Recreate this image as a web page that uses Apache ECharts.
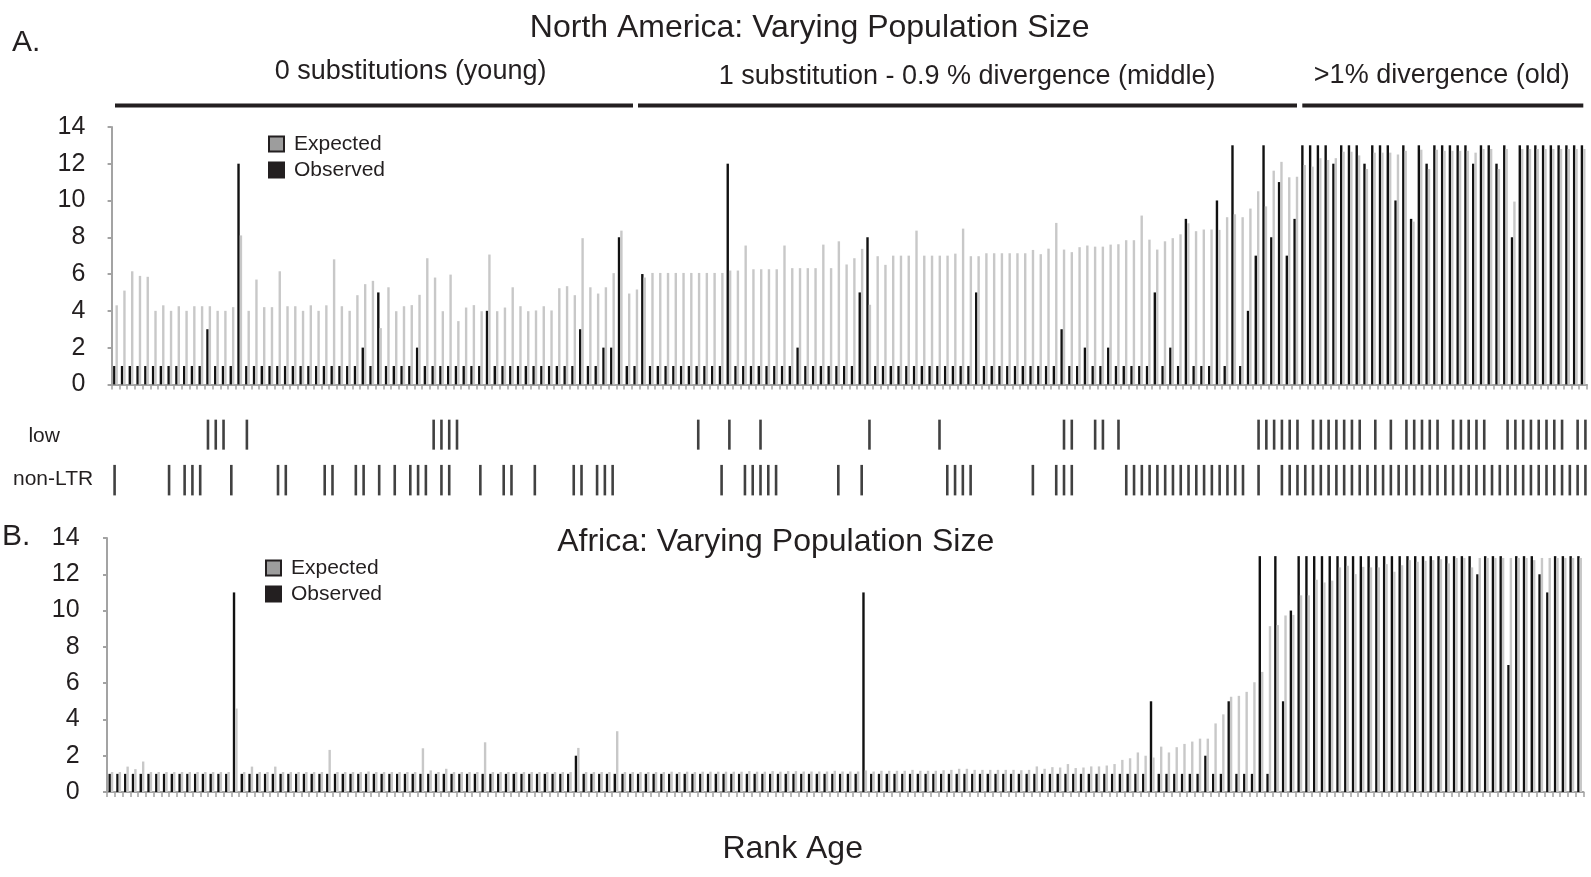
<!DOCTYPE html>
<html><head><meta charset="utf-8">
<script src="https://cdn.jsdelivr.net/npm/echarts@6/dist/echarts.min.js"></script>
<style>html,body{margin:0;padding:0;background:#fff}#c{width:1591px;height:877px}</style>
</head><body><div id="c"></div>
<script>
// Rank-age categories (190 elements)
const categories = Array.from({length: 190}, (_, i) => String(i + 1));
const yTicks = [0, 2, 4, 6, 8, 10, 12, 14];

// Panel A: North America
const naExpected = [
 4.3,5.1,6.15,5.9,5.85,4.0,4.3,4.0,4.25,4.0,
 4.25,4.25,4.25,4.0,4.0,4.2,8.1,4.0,5.7,4.2,
 4.2,6.15,4.25,4.25,4.0,4.3,4.0,4.3,6.8,4.25,
 4.0,4.85,5.45,5.63,3.06,5.28,3.98,4.25,4.31,4.87,
 6.86,5.81,3.98,5.97,3.44,4.18,4.31,3.98,7.06,3.98,
 4.18,5.28,4.25,3.98,4.02,4.25,4.02,5.23,5.34,4.85,
 7.95,5.28,4.94,5.28,6.05,8.36,4.94,5.16,5.81,6.06,
 6.06,6.06,6.06,6.06,6.06,6.06,6.06,6.06,6.06,6.19,
 6.19,7.55,6.26,6.26,6.26,6.26,7.55,6.32,6.32,6.32,
 6.32,7.6,6.32,7.78,6.52,6.86,7.37,4.33,6.97,6.5,
 7.0,7.0,7.0,8.36,7.0,7.0,7.0,7.0,7.11,8.47,
 6.97,6.97,7.13,7.13,7.13,7.13,7.13,7.13,7.31,7.08,
 7.38,8.78,7.33,7.19,7.46,7.55,7.49,7.49,7.6,7.62,
 7.84,7.84,9.18,7.87,7.33,7.78,7.95,8.16,8.76,8.33,
 8.42,8.42,8.4,9.09,9.25,9.09,9.56,10.5,9.68,11.62,
 12.1,11.26,11.29,11.93,11.84,12.3,12.2,12.3,12.65,12.65,
 12.45,11.71,12.6,12.6,12.6,12.5,12.7,8.85,12.76,11.71,
 12.76,12.7,12.7,12.7,12.7,12.6,12.8,12.8,11.71,12.8,
 9.94,12.8,12.8,12.8,12.8,12.8,12.8,12.8,12.8,12.8
];
const naObserved = [
 1,1,1,1,1,1,1,1,1,1,
 1,1,3,1,1,1,12,1,1,1,
 1,1,1,1,1,1,1,1,1,1,
 1,1,2,1,5,1,1,1,1,2,
 1,1,1,1,1,1,1,1,4,1,
 1,1,1,1,1,1,1,1,1,1,
 3,1,1,2,2,8,1,1,6,1,
 1,1,1,1,1,1,1,1,1,12,
 1,1,1,1,1,1,1,1,2,1,
 1,1,1,1,1,1,5,8,1,1,
 1,1,1,1,1,1,1,1,1,1,
 1,5,1,1,1,1,1,1,1,1,
 1,1,3,1,1,2,1,1,2,1,
 1,1,1,1,5,1,2,1,9,1,
 1,1,10,1,13,1,4,7,13,8,
 11,7,9,13,13,13,13,12,13,13,
 13,12,13,13,13,10,13,9,13,12,
 13,13,13,13,13,12,13,13,12,13,
 8,13,13,13,13,13,13,13,13,13
];

// Panel B: Africa
const afExpected = [
 1.1,1.1,1.4,1.26,1.68,1.1,1.1,1.1,1.1,1.1,
 1.1,1.1,1.1,1.1,1.1,1.1,4.6,1.1,1.4,1.1,
 1.1,1.4,1.1,1.1,1.1,1.1,1.1,1.1,2.32,1.1,
 1.1,1.1,1.1,1.13,1.1,1.1,1.1,1.1,1.1,1.1,
 2.41,1.19,1.1,1.28,1.1,1.1,1.1,1.1,2.74,1.1,
 1.1,1.1,1.1,1.1,1.1,1.1,1.1,1.1,1.1,1.1,
 2.43,1.1,1.1,1.1,1.1,3.35,1.1,1.1,1.1,1.1,
 1.1,1.1,1.12,1.1,1.12,1.1,1.12,1.12,1.12,1.12,
 1.12,1.12,1.15,1.12,1.12,1.15,1.12,1.15,1.15,1.13,
 1.13,1.13,1.13,1.17,1.13,1.13,1.13,1.19,1.13,1.17,
 1.17,1.17,1.17,1.22,1.17,1.17,1.17,1.2,1.22,1.28,
 1.28,1.22,1.22,1.22,1.22,1.22,1.22,1.2,1.22,1.41,
 1.28,1.37,1.35,1.54,1.32,1.35,1.41,1.41,1.46,1.54,
 1.77,1.86,2.18,2.0,1.9,2.5,2.18,2.47,2.65,2.78,
 2.94,2.94,3.78,4.28,5.25,5.3,5.52,6.05,6.62,9.14,
 9.2,9.73,9.76,10.84,10.84,11.7,11.55,11.65,12.38,12.47,
 12.01,12.41,12.38,12.38,12.56,12.14,12.5,12.78,12.69,12.74,
 12.78,12.83,12.6,12.9,12.9,12.38,12.9,12.9,12.9,12.9,
 12.9,12.9,12.9,12.78,12.9,12.9,12.9,12.9,12.9,12.9
];
const afObserved = [
 1,1,1,1,1,1,1,1,1,1,
 1,1,1,1,1,1,11,1,1,1,
 1,1,1,1,1,1,1,1,1,1,
 1,1,1,1,1,1,1,1,1,1,
 1,1,1,1,1,1,1,1,1,1,
 1,1,1,1,1,1,1,1,1,1,
 2,1,1,1,1,1,1,1,1,1,
 1,1,1,1,1,1,1,1,1,1,
 1,1,1,1,1,1,1,1,1,1,
 1,1,1,1,1,1,1,11,1,1,
 1,1,1,1,1,1,1,1,1,1,
 1,1,1,1,1,1,1,1,1,1,
 1,1,1,1,1,1,1,1,1,1,
 1,1,1,1,5,1,1,1,1,1,
 1,2,1,1,5,1,1,1,13,1,
 13,5,10,13,13,13,13,13,13,13,
 13,13,13,13,13,13,13,13,13,13,
 13,13,13,13,13,13,12,13,13,13,
 7,13,13,13,12,11,13,13,13,13
];

// Element classes marked beneath panel A (category indices, 0-based)
const lowMarks = [12,13,14,17,41,42,43,44,75,79,83,97,106,122,123,126,127,129,
 147,148,149,150,151,152,154,155,156,157,158,159,160,162,164,
 166,167,168,169,170,172,173,174,175,176,179,180,181,182,183,184,185,186,188,189];
const nonLtrMarks = [0,7,9,10,11,15,21,22,27,28,31,32,34,36,38,39,40,42,43,47,50,51,54,
 59,60,62,63,64,78,81,82,83,84,85,93,96,107,108,109,110,118,121,122,123,
 130,131,132,133,134,135,136,137,138,139,140,141,142,143,144,145,147,
 150,151,152,153,154,155,156,157,158,159,160,161,162,163,164,165,166,167,168,169,
 170,171,172,173,174,175,176,177,178,179,180,181,182,183,184,185,186,187,188,189];

const rowNames = ['non-LTR', 'low'];
const sectionLabels = ['0 substitutions (young)', '1 substitution - 0.9 % divergence (middle)', '>1% divergence (old)'];

const FONT = '"Liberation Sans", Arial, sans-serif';
const INK = '#231f20';
const GREY = '#c8c8c8';
const AXIS = '#a3a3a3';

const chart = echarts.init(document.getElementById('c'), null, {renderer: 'canvas'});

function valueAxis(gi, margin) {
  return {
    type: 'value', gridIndex: gi, min: 0, max: 14, interval: 2,
    axisLine: {show: true, lineStyle: {color: AXIS, width: 2}},
    axisTick: {show: true, length: 4, lineStyle: {color: AXIS, width: 2}},
    splitLine: {show: false},
    axisLabel: {color: INK, fontSize: 25, fontFamily: FONT, margin: margin}
  };
}
function catAxis(gi, showLine) {
  return {
    type: 'category', gridIndex: gi, data: categories, boundaryGap: true,
    axisLine: {show: showLine, lineStyle: {color: AXIS, width: 2}},
    axisTick: {show: showLine, interval: 0, length: 5, lineStyle: {color: AXIS, width: 1.5}},
    axisLabel: {show: false}, splitLine: {show: false}
  };
}

const marksData = (arr, row) => arr.map(c => [c, row]);

const textEl = (text, x, y, size, align) => ({
  type: 'text', x: x, y: y, silent: true,
  style: {text: text, fill: INK, fontSize: size, fontFamily: FONT, align: align || 'center', verticalAlign: 'middle'}
});
const lineEl = (x1, x2, y) => ({
  type: 'line', silent: true, shape: {x1: x1, y1: y, x2: x2, y2: y},
  style: {stroke: INK, lineWidth: 4}
});
const legendData = [
  {name: 'Expected', icon: 'rect', itemStyle: {color: '#9d9d9d', borderColor: INK, borderWidth: 2}},
  {name: 'Observed', icon: 'rect', itemStyle: {color: INK, borderColor: INK, borderWidth: 2}}
];
const legendBox = (left, top) => ({
  orient: 'vertical', left: left, top: top, itemWidth: 15, itemHeight: 15, itemGap: 5,
  textStyle: {fontSize: 21, fontFamily: FONT, color: INK, padding: [0, 0, 0, 5]},
  data: legendData
});

const option = {
  backgroundColor: '#fff',
  animation: false,
  grid: [
    {left: 111.6, top: 126.9, width: 1475.4, height: 257.5},
    {left: 107, top: 538, width: 1476.5, height: 254},
    {left: 110.7, top: 411.9, width: 1478.6, height: 91}
  ],
  xAxis: [catAxis(0, true), catAxis(1, true), catAxis(2, false)],
  yAxis: [
    valueAxis(0, 26.3),
    valueAxis(1, 27.4),
    {type: 'category', gridIndex: 2, data: rowNames, show: false}
  ],
  legend: [legendBox(263, 128.5), legendBox(260, 552.5)],
  series: [
    {name: 'Observed', type: 'bar', xAxisIndex: 0, yAxisIndex: 0, data: naObserved,
     barWidth: 2.4, barGap: '0%', itemStyle: {color: '#111'}},
    {name: 'Expected', type: 'bar', xAxisIndex: 0, yAxisIndex: 0, data: naExpected,
     barWidth: 2.4, barGap: '0%', itemStyle: {color: GREY}},
    {name: 'Observed', type: 'bar', xAxisIndex: 1, yAxisIndex: 1, data: afObserved,
     barWidth: 2.4, barGap: '0%', itemStyle: {color: '#111'}},
    {name: 'Expected', type: 'bar', xAxisIndex: 1, yAxisIndex: 1, data: afExpected,
     barWidth: 2.4, barGap: '0%', itemStyle: {color: GREY}},
    {name: 'low', type: 'scatter', xAxisIndex: 2, yAxisIndex: 2, data: marksData(lowMarks, 'low'),
     symbol: 'rect', symbolSize: [2.6, 30], itemStyle: {color: '#111'}},
    {name: 'non-LTR', type: 'scatter', xAxisIndex: 2, yAxisIndex: 2, data: marksData(nonLtrMarks, 'non-LTR'),
     symbol: 'rect', symbolSize: [2.6, 30.5], itemStyle: {color: '#111'}}
  ],
  graphic: [
    textEl('North America: Varying Population Size', 809.7, 28.4, 32),
    textEl('A.', 12, 43, 30, 'left'),
    textEl(sectionLabels[0], 410.6, 72, 27),
    textEl(sectionLabels[1], 967.2, 77, 27),
    textEl(sectionLabels[2], 1441.8, 76, 27),
    lineEl(115, 633, 105.5),
    lineEl(638, 1297, 105.5),
    lineEl(1302.3, 1583.3, 105.5),
    textEl('low', 28.4, 436, 21, 'left'),
    textEl('non-LTR', 13, 479, 21, 'left'),
    textEl('B.', 2, 537, 30, 'left'),
    textEl('Africa: Varying Population Size', 775.7, 542, 32),
    textEl('Rank Age', 792.7, 849, 32)
  ]
};
chart.setOption(option);
</script>
</body></html>
